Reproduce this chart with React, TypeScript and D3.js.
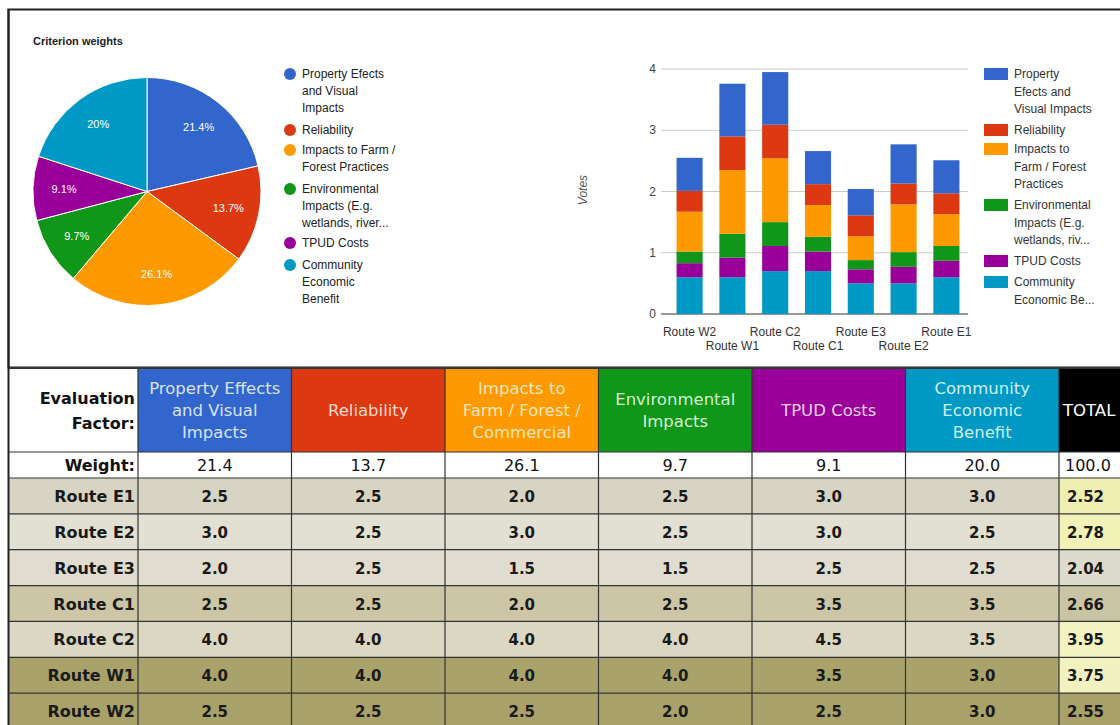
import React from 'react';
import * as d3 from 'd3';

// criteria (same order in pie, bars and table)
const criteria = [
  'Property Effects and Visual Impacts',
  'Reliability',
  'Impacts to Farm / Forest Practices',
  'Environmental Impacts',
  'TPUD Costs',
  'Community Economic Benefit',
];
const weights = [21.4, 13.7, 26.1, 9.7, 9.1, 20.0];
const pieLabels = ['21.4%', '13.7%', '26.1%', '9.7%', '9.1%', '20%'];

// legend wording as it is wrapped in the two charts
const pieLegendLines = [
  ['Property Efects', 'and Visual', 'Impacts'],
  ['Reliability'],
  ['Impacts to Farm /', 'Forest Practices'],
  ['Environmental', 'Impacts (E.g.', 'wetlands, river...'],
  ['TPUD Costs'],
  ['Community', 'Economic', 'Benefit'],
];
const barLegendLines = [
  ['Property', 'Efects and', 'Visual Impacts'],
  ['Reliability'],
  ['Impacts to', 'Farm / Forest', 'Practices'],
  ['Environmental', 'Impacts (E.g.', 'wetlands, riv...'],
  ['TPUD Costs'],
  ['Community', 'Economic Be...'],
];

// stacked bar chart: weighted votes per route
const barRoutes = ['Route W2', 'Route W1', 'Route C2', 'Route C1', 'Route E3', 'Route E2', 'Route E1'];
const votesProperty = [0.54, 0.86, 0.86, 0.54, 0.43, 0.64, 0.54];
const votesReliability = [0.34, 0.55, 0.55, 0.34, 0.34, 0.34, 0.34];
const votesFarm = [0.65, 1.04, 1.04, 0.52, 0.39, 0.78, 0.52];
const votesEnvironment = [0.19, 0.39, 0.39, 0.24, 0.15, 0.24, 0.24];
const votesTpud = [0.23, 0.32, 0.41, 0.32, 0.23, 0.27, 0.27];
const votesCommunity = [0.6, 0.6, 0.7, 0.7, 0.5, 0.5, 0.6];
const yTicks = [0, 1, 2, 3, 4];

// evaluation table
const tableHeaders = [
  ['Property Effects', 'and Visual', 'Impacts'],
  ['Reliability'],
  ['Impacts to', 'Farm / Forest /', 'Commercial'],
  ['Environmental', 'Impacts'],
  ['TPUD Costs'],
  ['Community', 'Economic', 'Benefit'],
];
const tableWeights = ['21.4', '13.7', '26.1', '9.7', '9.1', '20.0'];
const tableRoutes = ['Route E1', 'Route E2', 'Route E3', 'Route C1', 'Route C2', 'Route W1', 'Route W2'];
const scoreProperty = [2.5, 3.0, 2.0, 2.5, 4.0, 4.0, 2.5];
const scoreReliability = [2.5, 2.5, 2.5, 2.5, 4.0, 4.0, 2.5];
const scoreFarm = [2.0, 3.0, 1.5, 2.0, 4.0, 4.0, 2.5];
const scoreEnvironment = [2.5, 2.5, 1.5, 2.5, 4.0, 4.0, 2.0];
const scoreTpud = [3.0, 3.0, 2.5, 3.5, 4.5, 3.5, 2.5];
const scoreCommunity = [3.0, 2.5, 2.5, 3.5, 3.5, 3.0, 3.0];
const routeTotals = ['2.52', '2.78', '2.04', '2.66', '3.95', '3.75', '2.55'];

const colors = ['#3366cc', '#dc3912', '#ff9900', '#109618', '#990099', '#0099c6'];
const headerText = ['#d6e2ff', '#ffd8cc', '#ffe6bf', '#d3f2d3', '#f2d0f2', '#cdeffa'];
const rowFill = ['#d8d4c3', '#e2dfd3', '#e0ddd0', '#ccc6a6', '#dbd7c2', '#a9a36b', '#a8a16a'];
const totalFill = ['#efefb2', '#f1f1b8', '#dddbcd', '#c9c4a4', '#f3f3c1', '#f2f2c0', '#a8a16a'];

const ARIAL = '"Liberation Sans", Arial, sans-serif';
const VERD = '"DejaVu Sans", Verdana, sans-serif';

export default function App() {
  // ---- pie ----
  const cx = 147, cy = 191.5, R = 114;
  const pie = d3.pie<number>().sort(null).value(d => d);
  const slices = pie(weights);
  const arc = d3.arc<d3.PieArcDatum<number>>().innerRadius(0).outerRadius(R);
  const labelArc = d3.arc<d3.PieArcDatum<number>>().innerRadius(83).outerRadius(83);

  // ---- stacked bars ----
  const rows = barRoutes.map((r, i) => ({
    route: r,
    c0: votesProperty[i], c1: votesReliability[i], c2: votesFarm[i],
    c3: votesEnvironment[i], c4: votesTpud[i], c5: votesCommunity[i],
  }));
  const keys = ['c5', 'c4', 'c3', 'c2', 'c1', 'c0'];
  const stacked = d3.stack<any>().keys(keys)(rows);
  const x = d3.scaleBand().domain(barRoutes).range([668, 968]).paddingInner(0.39).paddingOuter(0.2);
  const y = d3.scaleLinear().domain([0, 4]).range([314, 69]);

  // ---- table ----
  const colX = d3.scaleBand().domain(criteria).range([138, 1059]);
  const rowY = d3.scaleBand().domain(tableRoutes).range([478, 729]);
  const scores = [scoreProperty, scoreReliability, scoreFarm, scoreEnvironment, scoreTpud, scoreCommunity];
  const totalX0 = 1059, totalX1 = 1121;
  const headTop = 368, headBot = 452, weightBot = 478;

  return (
    <svg width={1120} height={725} style={{ position: 'absolute', left: 0, top: 0, background: '#fff' }}>
      {/* frame of the chart area */}
      <rect x={8.5} y={9.5} width={1125} height={358} fill="#fff" stroke="#222" strokeWidth={2} />

      {/* pie chart */}
      <text x={33} y={45} fontFamily={ARIAL} fontSize={11} fontWeight="bold" fill="#222">Criterion weights</text>
      <g transform={`translate(${cx},${cy})`}>
        {slices.map((s, i) => (
          <path key={i} d={arc(s) as string} fill={colors[i]} stroke="#fff" strokeWidth={1} />
        ))}
        {slices.map((s, i) => {
          const [lx, ly] = labelArc.centroid(s);
          return (
            <text key={i} x={lx} y={ly + 4} textAnchor="middle" fontFamily={ARIAL} fontSize={11} fill="#fff">
              {pieLabels[i]}
            </text>
          );
        })}
      </g>
      {(() => {
        const starts = [74, 130, 150, 189, 243, 265];
        return pieLegendLines.map((lines, i) => (
          <g key={i}>
            <circle cx={290} cy={starts[i]} r={6} fill={colors[i]} />
            {lines.map((l, j) => (
              <text key={j} x={302} y={starts[i] + 4 + j * 17} fontFamily={ARIAL} fontSize={12} fill="#222">{l}</text>
            ))}
          </g>
        ));
      })()}

      {/* stacked bar chart */}
      {yTicks.map(t => (
        <g key={t}>
          <line x1={661} x2={968} y1={y(t)} y2={y(t)} stroke={t === 0 ? '#333' : '#ccc'} strokeWidth={1} />
          <text x={656} y={y(t) + 4} textAnchor="end" fontFamily={ARIAL} fontSize={12} fill="#444">{t}</text>
        </g>
      ))}
      <text transform="translate(587,190) rotate(-90)" textAnchor="middle" fontFamily={ARIAL} fontSize={12} fontStyle="italic" fill="#555">Votes</text>
      {stacked.map((layer, li) => {
        const ci = 5 - li;
        return layer.map((d, i) => (
          <rect key={`${li}-${i}`} x={x(barRoutes[i])} width={x.bandwidth()} y={y(d[1])}
            height={y(d[0]) - y(d[1])} fill={colors[ci]} />
        ));
      })}
      {barRoutes.map((r, i) => (
        <text key={r} x={(x(r) as number) + x.bandwidth() / 2} y={i % 2 === 0 ? 336 : 350}
          textAnchor="middle" fontFamily={ARIAL} fontSize={12} fill="#333">{r}</text>
      ))}
      {(() => {
        const starts = [74, 130, 149, 205, 261, 282];
        return barLegendLines.map((lines, i) => (
          <g key={i}>
            <rect x={984} y={starts[i] - 6} width={24} height={12} fill={colors[i]} />
            {lines.map((l, j) => (
              <text key={j} x={1014} y={starts[i] + 4 + j * 17.5} fontFamily={ARIAL} fontSize={12} fill="#333">{l}</text>
            ))}
          </g>
        ));
      })()}

      {/* evaluation table */}
      <rect x={8} y={headTop} width={130} height={weightBot - headTop} fill="#fff" />
      <text x={135} y={404} textAnchor="end" fontFamily={VERD} fontSize={16} fontWeight="bold" fill="#111">Evaluation</text>
      <text x={135} y={429} textAnchor="end" fontFamily={VERD} fontSize={16} fontWeight="bold" fill="#111">Factor:</text>
      {criteria.map((c, i) => {
        const x0 = colX(c) as number;
        const lines = tableHeaders[i];
        const mid = (headTop + headBot) / 2;
        return (
          <g key={c}>
            <rect x={x0} y={headTop} width={colX.bandwidth()} height={headBot - headTop} fill={colors[i]} />
            {lines.map((l, j) => (
              <text key={j} x={x0 + colX.bandwidth() / 2} y={mid + 6 + (j - (lines.length - 1) / 2) * 22}
                textAnchor="middle" fontFamily={VERD} fontSize={16.5} fill={headerText[i]}>{l}</text>
            ))}
            <rect x={x0} y={headBot} width={colX.bandwidth()} height={weightBot - headBot} fill="#fff" />
            <text x={x0 + colX.bandwidth() / 2} y={471} textAnchor="middle" fontFamily={VERD} fontSize={16} fill="#111">
              {tableWeights[i]}
            </text>
          </g>
        );
      })}
      <rect x={totalX0} y={headTop} width={totalX1 - totalX0} height={headBot - headTop} fill="#000" />
      <text x={totalX0 + 4} y={416} fontFamily={VERD} fontSize={16.5} fill="#fff">TOTAL</text>
      <text x={135} y={471} textAnchor="end" fontFamily={VERD} fontSize={16} fontWeight="bold" fill="#111">Weight:</text>
      <text x={totalX0 + 6} y={471} fontFamily={VERD} fontSize={16} fill="#111">100.0</text>

      {tableRoutes.map((r, ri) => {
        const y0 = rowY(r) as number;
        const h = rowY.bandwidth();
        const ty = y0 + h / 2 + 6;
        return (
          <g key={r}>
            <rect x={8} y={y0} width={totalX0 - 8} height={h} fill={rowFill[ri]} />
            <rect x={totalX0} y={y0} width={totalX1 - totalX0} height={h} fill={totalFill[ri]} />
            <text x={135} y={ty} textAnchor="end" fontFamily={VERD} fontSize={16} fontWeight="bold" fill="#1a1a1a">{r}</text>
            {criteria.map((c, ci) => (
              <text key={c} x={(colX(c) as number) + colX.bandwidth() / 2} y={ty} textAnchor="middle"
                fontFamily={VERD} fontSize={15} fontWeight="bold" fill="#1a1a1a">{scores[ci][ri].toFixed(1)}</text>
            ))}
            <text x={totalX0 + 8} y={ty} fontFamily={VERD} fontSize={15} fontWeight="bold" fill="#1a1a1a">{routeTotals[ri]}</text>
          </g>
        );
      })}

      {/* grid lines of the table */}
      {[headTop, headBot, weightBot, ...tableRoutes.map(r => (rowY(r) as number) + rowY.bandwidth())].map((yy, i) => (
        <line key={`h${i}`} x1={8} x2={1120} y1={yy} y2={yy} stroke="#333" strokeWidth={i === 0 ? 2 : 1.2} />
      ))}
      {[138, ...criteria.map(c => (colX(c) as number) + colX.bandwidth())].map((xx, i) => (
        <line key={`v${i}`} x1={xx} x2={xx} y1={headTop} y2={725} stroke="#333" strokeWidth={1.2} />
      ))}
      <line x1={8.5} x2={8.5} y1={9} y2={725} stroke="#222" strokeWidth={2} />
    </svg>
  );
}
